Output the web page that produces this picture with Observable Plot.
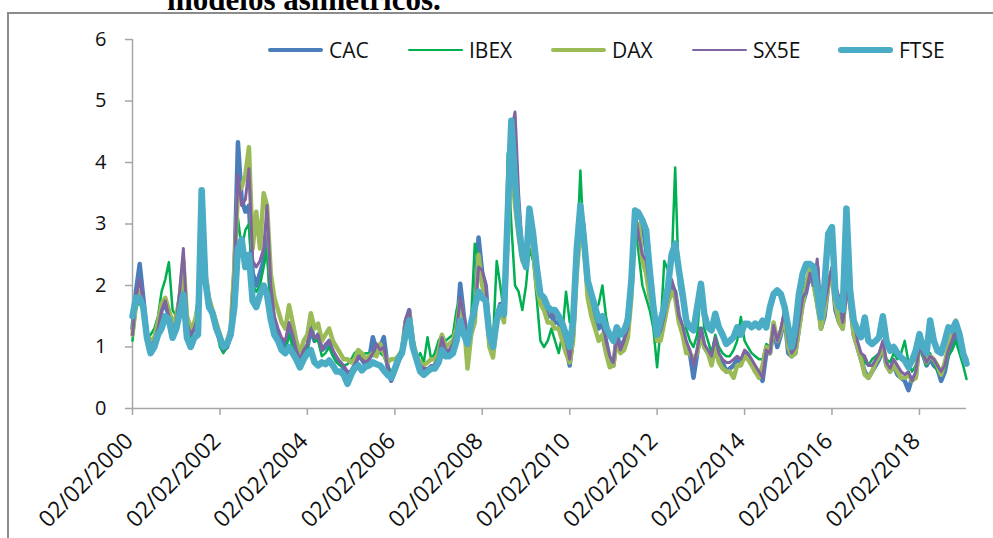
<!DOCTYPE html>
<html>
<head>
<meta charset="utf-8">
<script src="https://cdn.jsdelivr.net/npm/d3@7"></script>
<script src="https://cdn.jsdelivr.net/npm/@observablehq/plot@0.6"></script>
<style>
  body { margin: 0; background: #fff; }
  #wrap { position: relative; width: 993px; height: 538px; overflow: hidden; background: #fff; }
  #title { position: absolute; left: 167px; top: -16px; font: bold 31px/31px "Liberation Serif", serif; color: #000; white-space: nowrap; }
  #frame { position: absolute; left: 7px; top: 12px; width: 1100px; height: 700px; border: 2px solid #8c8c8c; box-sizing: border-box; }
  #chart { position: absolute; left: 0; top: 0; }
  #chart svg [aria-label="y-axis tick"] { stroke: #a6a6a6; stroke-width: 1.5; }
  #chart svg [aria-label="x-axis tick"] { stroke: #a6a6a6; stroke-width: 1.5; }
  .leg { position: absolute; top: 37px; height: 26px; display: flex; align-items: center; font: 21px "Open Sans", sans-serif; color: #111; white-space: nowrap; }
  .leg i { display: inline-block; border-radius: 3px; margin-right: 6px; }
</style>
</head>
<body>
<div id="wrap">
  <div id="title">modelos asimétricos.</div>
  <div id="frame"></div>
  <div id="chart"></div>
  <div id="legend"></div>
</div>
<script>
// Monthly volatility, first value 02/02/2000, last value March 2019.
const seriesNames = ["CAC", "IBEX", "DAX", "SX5E", "FTSE"];
const seriesColors = ["#4a7ebb", "#00b050", "#9bbb59", "#8064a2", "#4bacc6"];
const seriesWidths = [4.5, 2.5, 4.5, 3, 6.5];
const legendWidths = [3.5, 2.2, 3.5, 2.2, 5.5];

const cac = [
  1.3, 1.9, 2.35, 1.8, 1.2, 1.05, 1.1, 1.3, 1.6, 1.7, 1.5,
  1.3, 1.4, 1.8, 2.2, 1.4, 1.2, 1.3, 1.5, 3.0, 2.0, 1.7, 1.5,
  1.3, 1.1, 0.95, 1.0, 1.2, 2.2, 4.33, 3.4, 3.2, 3.3, 2.2, 2.0,
  2.2, 2.4, 2.8, 1.8, 1.4, 1.2, 1.1, 1.0, 1.3, 1.1, 0.9, 0.75,
  0.9, 1.0, 1.3, 1.1, 1.2, 0.95, 1.0, 1.1, 0.9, 0.8, 0.75, 0.65,
  0.55, 0.6, 0.7, 0.85, 0.8, 0.7, 0.8, 1.16, 0.95, 1.0, 1.16, 0.7,
  0.45, 0.6, 0.75, 0.9, 1.4, 1.6, 1.1, 0.8, 0.65, 0.6, 0.6, 0.65,
  0.7, 0.85, 1.1, 0.9, 0.9, 1.0, 1.2, 2.03, 1.5, 1.1, 1.4, 1.6,
  2.78, 2.2, 2.0, 1.2, 1.0, 1.5, 1.7, 1.5, 3.2, 4.6, 3.8, 3.0,
  2.5, 2.4, 3.2, 2.8, 2.2, 1.8, 1.7, 1.5, 1.5, 1.4, 1.4, 1.2,
  1.0, 0.7, 1.2, 2.4, 3.2, 2.8, 2.0, 1.7, 1.5, 1.3, 1.4, 1.1,
  0.8, 0.7, 1.2, 1.0, 1.1, 1.3, 2.0, 3.1, 3.2, 3.0, 2.6, 2.0,
  1.6, 1.1, 1.2, 1.5, 1.8, 2.0, 1.9, 1.5, 1.3, 1.0, 0.9, 0.5,
  0.9, 1.3, 1.0, 0.9, 0.8, 1.1, 0.85, 0.75, 0.6, 0.65, 0.7, 0.8,
  0.75, 0.9, 0.85, 0.75, 0.6, 0.55, 0.45, 0.9, 0.9, 1.3, 1.0, 1.2,
  1.5, 0.9, 0.85, 0.9, 1.3, 1.7, 1.9, 2.2, 2.0, 2.3, 1.3, 1.5,
  2.0, 2.2, 1.6, 1.4, 1.3, 2.2, 1.7, 1.2, 1.0, 0.8, 0.6, 0.5,
  0.6, 0.7, 0.8, 1.0, 0.7, 0.6, 0.7, 0.55, 0.5, 0.45, 0.3, 0.5,
  0.5, 1.1, 0.9, 0.7, 0.8, 0.7, 0.65, 0.45, 0.6, 0.9, 1.0, 1.2,
  1.0, 0.8, 0.75
];

const ibex = [
  1.1, 1.6, 1.8, 1.6, 1.1, 1.2, 1.3, 1.5, 1.9, 2.1, 2.38,
  1.6, 1.5, 1.7, 1.9, 1.3, 1.1, 1.4, 1.8, 2.9, 2.0, 1.7, 1.5,
  1.3, 1.0, 0.9, 1.0, 1.3, 2.1, 3.1, 2.6, 2.9, 3.0, 2.0, 1.9,
  2.0, 2.3, 2.6, 1.6, 1.3, 1.1, 1.0, 0.95, 1.2, 1.0, 0.85, 0.67,
  0.85, 0.95, 1.5, 1.1, 1.1, 0.85, 0.9, 1.0, 0.85, 0.75, 0.7, 0.7,
  0.72, 0.8, 0.9, 0.95, 0.85, 0.9, 0.9, 0.85, 0.95, 0.9, 0.85, 0.7,
  0.6, 0.65, 0.8, 0.9, 1.3, 1.5, 1.0, 0.8, 0.9, 0.75, 1.16, 0.8,
  0.9, 1.1, 1.2, 1.1, 1.15, 1.2, 1.6, 1.8, 1.4, 1.0, 1.5, 2.68,
  2.4, 2.2, 1.9, 1.3, 1.1, 2.4, 2.0, 1.54, 4.15, 3.0, 2.0, 1.9,
  1.6, 2.0, 2.6, 2.4, 1.8, 1.1, 1.0, 1.1, 1.3, 1.1, 0.9, 1.2,
  1.9, 1.4, 1.5, 2.5, 3.87, 2.6, 1.8, 1.8, 1.6, 1.7, 2.0, 1.5,
  1.2, 1.1, 1.3, 1.2, 1.3, 1.6, 2.2, 3.0, 2.5, 2.0, 1.8, 1.6,
  1.3, 0.67, 1.3, 2.4, 2.25, 2.3, 3.92, 2.0, 1.7, 1.3, 1.1, 1.0,
  1.2, 2.0, 1.3, 1.1, 0.9, 1.2, 1.0, 0.9, 0.85, 0.85, 0.95, 1.1,
  1.49, 1.1, 1.0, 0.9, 0.85, 0.8, 0.8, 1.05, 1.0, 1.4, 1.15, 1.3,
  1.6, 1.1, 0.95, 1.0, 1.4, 1.9, 2.1, 2.2, 2.0, 1.6, 1.3, 1.7,
  2.1, 2.3, 1.8, 1.5, 1.4, 2.6, 1.7, 1.2, 1.0, 0.9, 0.75, 0.7,
  0.8, 0.85, 0.9, 1.0, 0.8, 0.75, 0.9, 0.8, 0.9, 1.1, 0.75, 0.6,
  0.7, 1.0, 0.85, 0.7, 0.9, 0.75, 0.6, 0.55, 0.65, 0.85, 0.95, 1.1,
  0.9, 0.7, 0.48
];

const dax = [
  1.2, 1.7, 1.9, 1.6, 1.2, 1.1, 1.15, 1.4, 1.7, 1.8, 1.6,
  1.4, 1.5, 1.8, 2.4, 1.5, 1.3, 1.4, 1.6, 3.1, 2.2, 1.8, 1.6,
  1.4, 1.2, 1.0, 1.1, 1.3, 2.3, 3.5, 3.6, 3.8, 4.25, 2.6, 3.2,
  2.6, 3.5, 3.3, 2.2, 1.8, 1.6, 1.4, 1.3, 1.68, 1.4, 1.1, 0.9,
  1.1, 1.2, 1.55, 1.3, 1.38, 1.1, 1.2, 1.3, 1.1, 1.0, 0.9, 0.8,
  0.8, 0.75, 0.8, 0.95, 0.9, 0.8, 0.85, 0.9, 0.85, 1.05, 0.9, 0.75,
  0.8, 0.8, 0.85, 0.95, 1.4, 1.55, 1.1, 0.85, 0.75, 0.7, 0.75, 0.8,
  0.8, 0.9, 1.2, 1.0, 1.05, 1.1, 1.3, 1.75, 1.4, 0.65, 1.2, 1.4,
  2.5, 2.0, 1.8, 1.0, 0.83, 1.4, 1.6, 1.4, 2.8, 4.0, 3.3, 2.8,
  2.4, 2.3, 3.0, 2.6, 2.0, 1.7, 1.6, 1.4, 1.4, 1.3, 1.3, 1.1,
  0.9, 0.75, 1.1, 2.2, 2.9, 2.6, 1.8, 1.5, 1.3, 1.1, 1.2, 0.9,
  0.67, 0.7, 1.1, 0.9, 0.95, 1.15, 1.8, 3.0, 3.0, 2.4, 2.2, 1.8,
  1.6, 1.1, 1.1, 1.4, 1.7, 1.9, 1.8, 1.4, 1.2, 0.9, 0.9, 0.8,
  0.9, 1.2, 1.0, 0.9, 0.7, 1.0, 0.75, 0.65, 0.6, 0.6, 0.5, 0.7,
  0.7, 0.85, 0.8, 0.7, 0.6, 0.5, 0.7, 1.0, 0.9, 1.4, 1.1, 1.25,
  1.5, 1.0, 0.85, 0.9, 1.3, 1.7, 2.0, 2.3, 2.0, 1.7, 1.3, 1.6,
  2.0, 2.2, 1.7, 1.4, 1.3, 2.0, 1.8, 1.2, 1.0, 0.8, 0.55, 0.5,
  0.6, 0.75, 0.85, 1.05, 0.7, 0.6, 0.7, 0.6, 0.5, 0.5, 0.55, 0.45,
  0.5, 1.1, 0.95, 0.75, 0.85, 0.8, 0.7, 0.55, 0.75, 1.0, 1.2, 1.43,
  1.2, 0.9, 0.8
];

const sx5e = [
  1.2, 1.8, 2.1, 1.75, 1.2, 1.0, 1.1, 1.3, 1.6, 1.75, 1.5,
  1.3, 1.4, 1.9, 2.6, 1.4, 1.2, 1.3, 1.5, 3.0, 2.1, 1.8, 1.5,
  1.3, 1.1, 0.95, 1.05, 1.25, 2.2, 3.8, 3.3, 3.4, 3.9, 2.4, 2.3,
  2.4, 2.6, 3.3, 2.0, 1.5, 1.3, 1.15, 1.1, 1.4, 1.2, 0.95, 0.8,
  0.95, 1.05, 1.3, 1.15, 1.2, 0.95, 1.05, 1.1, 0.95, 0.85, 0.75, 0.7,
  0.6, 0.6, 0.7, 0.85, 0.8, 0.75, 0.8, 0.9, 1.05, 0.95, 1.0, 0.7,
  0.45, 0.6, 0.8, 0.9, 1.45, 1.6, 1.1, 0.85, 0.7, 0.65, 0.65, 0.7,
  0.7, 0.85, 1.15, 0.95, 0.95, 1.05, 1.25, 1.8, 1.5, 1.1, 1.4, 1.5,
  2.3, 2.25, 2.0, 1.2, 1.0, 1.5, 1.7, 1.5, 3.0, 4.5, 4.82, 3.5,
  2.6, 2.5, 3.2, 2.9, 2.3, 1.9, 1.8, 1.6, 1.55, 1.5, 1.45, 1.3,
  1.1, 0.8, 1.2, 2.3, 3.1, 3.0, 2.1, 1.8, 1.55, 1.4, 1.45, 1.1,
  0.85, 0.75, 1.15, 0.95, 1.1, 1.3, 2.0, 3.2, 2.8, 2.5, 2.4, 2.0,
  1.7, 1.2, 1.25, 1.5, 1.8, 2.1, 1.9, 1.5, 1.35, 1.1, 0.95, 0.7,
  0.95, 1.3, 1.05, 0.95, 0.85, 1.15, 0.9, 0.8, 0.75, 0.75, 0.8, 0.85,
  0.8, 0.95, 0.9, 0.8, 0.7, 0.6, 0.5, 0.95, 0.9, 1.35, 1.1, 1.3,
  1.6, 1.1, 0.9, 1.0, 1.4, 1.8, 1.9, 2.2, 2.0, 2.43, 1.5, 1.7,
  2.0, 2.3, 2.0, 1.8, 1.4, 1.8, 2.2, 1.5, 1.1, 0.9, 0.85, 0.7,
  0.7, 0.8, 0.9, 1.1, 0.75, 0.65, 0.8, 0.7, 0.6, 0.55, 0.6, 0.45,
  0.6, 1.0, 0.9, 0.75, 0.85, 0.8, 0.7, 0.6, 0.7, 0.95, 1.1, 1.3,
  1.1, 0.9, 0.8
];

const ftse = [
  1.5, 1.8, 1.8, 1.65, 1.15, 0.9, 1.0, 1.2, 1.3, 1.5, 1.45,
  1.15, 1.3, 1.55, 1.85, 1.15, 1.0, 1.15, 1.2, 3.55, 2.1, 1.65, 1.55,
  1.3, 1.15, 1.0, 1.05, 1.2, 1.65, 2.6, 2.75, 2.3, 2.5, 1.75, 1.65,
  1.85, 2.0, 1.85, 1.45, 1.2, 1.1, 0.95, 0.9, 1.0, 0.9, 0.8, 0.67,
  0.8, 0.9, 0.95, 0.75, 0.7, 0.75, 0.72, 0.78, 0.7, 0.6, 0.6, 0.55,
  0.4, 0.55, 0.65, 0.7, 0.62, 0.68, 0.7, 0.75, 0.72, 0.7, 0.62, 0.55,
  0.5, 0.65, 0.8, 0.9, 1.2, 1.43, 1.0, 0.8, 0.6, 0.55, 0.6, 0.65,
  0.65, 0.75, 0.95, 0.85, 0.85, 0.9, 1.1, 1.43, 1.2, 1.05, 1.4, 1.65,
  1.9, 1.8, 1.75, 1.2, 1.0, 1.43, 1.65, 1.54, 3.17, 4.68, 3.7, 3.0,
  2.5, 2.3, 3.25, 2.84, 2.3, 1.86, 1.8, 1.65, 1.6, 1.6, 1.5, 1.38,
  1.2, 1.0, 1.43, 2.6, 3.3, 2.73, 2.08, 1.86, 1.65, 1.43, 1.5, 1.32,
  1.2, 1.1, 1.32, 1.2, 1.27, 1.43, 2.08, 3.22, 3.17, 3.06, 2.9, 2.25,
  1.65, 1.2, 1.43, 1.65, 1.97, 2.5, 2.68, 2.25, 1.86, 1.43, 1.32, 1.27,
  1.65, 2.03, 1.54, 1.32, 1.27, 1.54, 1.32, 1.2, 1.05, 1.1, 1.16, 1.32,
  1.2, 1.38, 1.38, 1.32, 1.38, 1.32, 1.43, 1.32, 1.65, 1.86, 1.92, 1.86,
  1.65, 1.32, 1.0, 1.32, 1.86, 2.19, 2.35, 2.35, 2.3, 1.92, 1.48, 2.03,
  2.84, 2.95, 1.86, 1.65, 1.6, 3.25, 1.92, 1.43, 1.27, 1.16, 1.48, 1.1,
  1.05, 1.1, 1.16, 1.5, 1.1, 0.94, 1.0, 0.9, 0.83, 0.78, 0.67, 0.78,
  0.94, 1.21, 1.0, 0.9, 1.43, 1.1, 0.94, 0.9, 1.1, 1.32, 1.27, 1.4,
  1.21, 0.9, 0.73
];

const yTicks = [0, 1, 2, 3, 4, 5, 6];
const xTickYears = [2000, 2002, 2004, 2006, 2008, 2010, 2012, 2014, 2016, 2018];

const seriesValues = [cac, ibex, dax, sx5e, ftse];
const start = new Date(Date.UTC(2000, 1, 2));
const dates = cac.map((_, i) => d3.utcMonth.offset(start, i));
const xTicks = xTickYears.map(y => new Date(Date.UTC(y, 1, 2)));
const fmt = d3.utcFormat("%d/%m/%Y");

const lineMarks = seriesValues.map((vals, k) =>
  Plot.line(vals.map((v, i) => ({date: dates[i], value: v})), {
    x: "date", y: "value",
    stroke: seriesColors[k], strokeWidth: seriesWidths[k],
    strokeLinejoin: "round", strokeLinecap: "round"
  })
);

const chart = Plot.plot({
  width: 993, height: 538,
  marginLeft: 132, marginRight: 27, marginTop: 39, marginBottom: 130,
  style: {background: "transparent", fontFamily: "Open Sans", color: "#111"},
  x: {type: "utc", domain: [start, dates[dates.length - 1]]},
  y: {domain: [0, 6]},
  marks: [
    Plot.axisY({ticks: yTicks, tickFormat: d3.format("d"), tickSize: 7, tickPadding: 19, fontSize: 20, label: null}),
    Plot.axisX({ticks: xTicks, tickSize: 7, tickFormat: () => "", label: null}),
    Plot.text(xTicks, {
      x: d => d, frameAnchor: "bottom", text: d => fmt(d),
      rotate: -45, textAnchor: "end", lineAnchor: "bottom",
      dx: 2, dy: 34, fontSize: 23, fill: "#111"
    }),
    Plot.ruleX([start], {stroke: "#a6a6a6", strokeWidth: 1.5}),
    Plot.ruleY([0], {stroke: "#a6a6a6", strokeWidth: 1.5}),
    ...lineMarks
  ]
});
document.getElementById("chart").appendChild(chart);

// Legend row inside the plot area
const legendLeft = [268, 408, 551, 692, 838];
const legend = document.getElementById("legend");
seriesNames.forEach((name, k) => {
  const item = document.createElement("div");
  item.className = "leg";
  item.style.left = legendLeft[k] + "px";
  const sw = document.createElement("i");
  sw.style.width = "55px";
  sw.style.height = legendWidths[k] + "px";
  sw.style.background = seriesColors[k];
  item.appendChild(sw);
  item.appendChild(document.createTextNode(name));
  legend.appendChild(item);
});
</script>
</body>
</html>
